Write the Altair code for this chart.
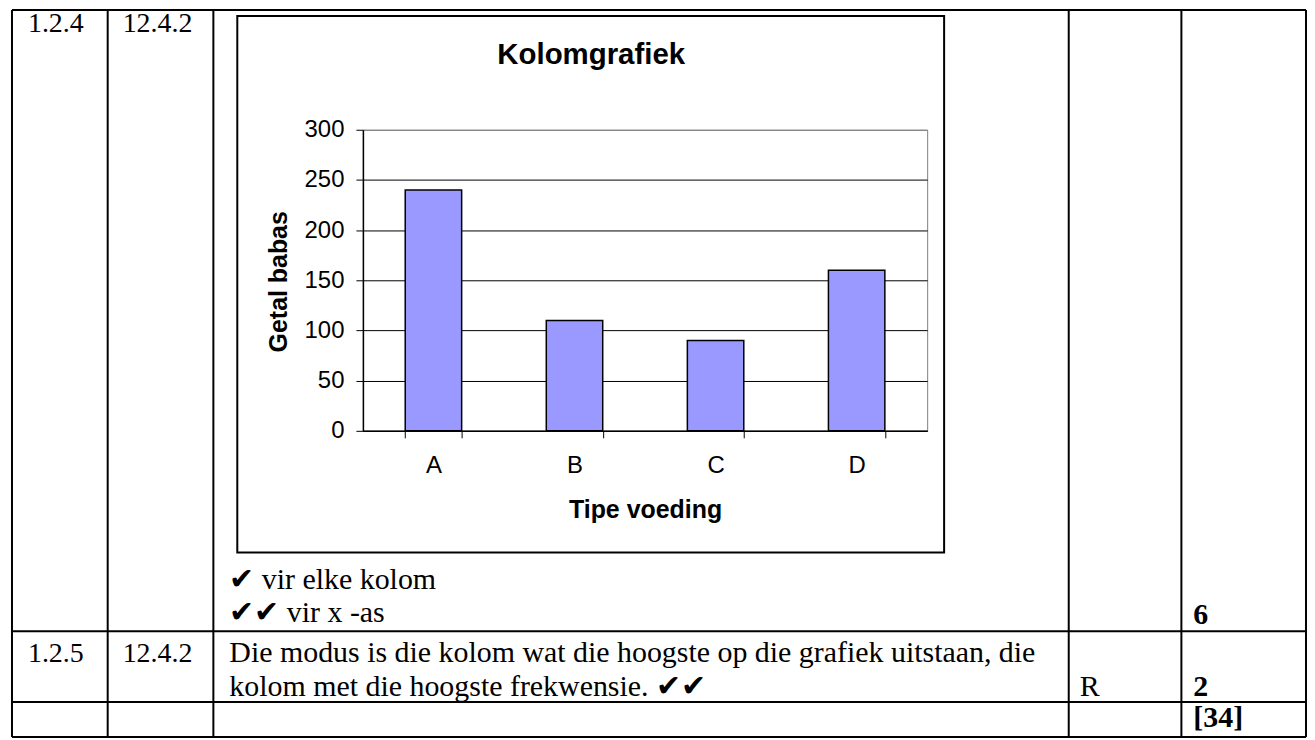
import altair as alt
import pandas as pd

# ---------------- data ----------------
categories = ["A", "B", "C", "D"]
values = [240, 110, 90, 160]
y_ticks = [0, 50, 100, 150, 200, 250, 300]

chart_title = "Kolomgrafiek"
x_title = "Tipe voeding"
y_title = "Getal babas"

question_numbers = ["1.2.4", "1.2.5"]
outcome_codes = ["12.4.2", "12.4.2"]
memo_notes = ["✔ vir elke kolom", "✔✔ vir x -as"]
answer_lines = [
    "Die modus is die kolom wat die hoogste op die grafiek uitstaan, die",
    "kolom met die hoogste frekwensie. ✔✔",
]
levels = ["R"]
marks_awarded = ["6", "2", "[34]"]

df = pd.DataFrame({"cat": categories, "val": values})
one = pd.DataFrame({"k": [0]})

# ---------------- layout (page pixels) ----------------
PX0, PY0 = 364, 129      # top-left of plot area on the page
W, H = 566, 302          # plot area size
MARGIN = 8


def rx(px):
    return px - PX0


def ry(py):
    return py - PY0


SERIF = "Liberation Serif"
SANS = "Liberation Sans"

# table geometry
T_LEFT, T_RIGHT = 12, 1310
T_TOP, T_BOTTOM = 9, 738
COL_X = [12, 108, 214, 1072, 1185, 1310]
ROW_Y = [9, 632, 703, 738]


def hrule(py, x1=T_LEFT, x2=T_RIGHT, w=2):
    return alt.Chart(one).mark_rule(color="black", strokeWidth=w).encode(
        x=alt.value(rx(x1)), x2=alt.value(rx(x2)), y=alt.value(ry(py))
    )


def vrule(px, y1=T_TOP, y2=T_BOTTOM, w=2):
    return alt.Chart(one).mark_rule(color="black", strokeWidth=w).encode(
        x=alt.value(rx(px)), y=alt.value(ry(y1)), y2=alt.value(ry(y2))
    )


def txt(s, px, py, size=30, bold=False, font=SERIF, align="left"):
    return alt.Chart(one).mark_text(
        text=s, font=font, fontSize=size,
        fontWeight="bold" if bold else "normal",
        align=align, baseline="alphabetic", color="black",
    ).encode(x=alt.value(rx(px)), y=alt.value(ry(py)))


# chart frame
frame = alt.Chart(one).mark_rect(
    fillOpacity=0, stroke="black", strokeWidth=2
).encode(
    x=alt.value(rx(238)), x2=alt.value(rx(947)),
    y=alt.value(ry(15)), y2=alt.value(ry(553)),
)

bars = alt.Chart(df).mark_bar(
    color="#9999FF", stroke="black", strokeWidth=1.5
).encode(
    x=alt.X(
        "cat:N", sort=categories,
        scale=alt.Scale(paddingInner=0.6, paddingOuter=0.3),
        axis=alt.Axis(
            title=x_title, labelAngle=0, tickBand="extent", grid=False,
            tickSize=7, tickColor="black", domainColor="black", domainWidth=1.5,
            labelFont=SANS, labelFontSize=24, labelColor="black",
            labelPadding=35, labelBaseline="alphabetic",
            titleFont=SANS, titleFontSize=25, titleFontWeight="bold",
            titleColor="black", titleX=W / 2, titleY=87,
            titleBaseline="alphabetic",
        ),
    ),
    y=alt.Y(
        "val:Q",
        scale=alt.Scale(domain=[0, 300], nice=False),
        axis=alt.Axis(
            title=y_title, values=y_ticks, grid=True,
            gridColor=alt.condition("datum.value === 300", alt.value("#808080"), alt.value("black")),
            gridWidth=1,
            tickSize=7, tickColor="black", domainColor="black", domainWidth=1.5,
            labelFont=SANS, labelFontSize=24, labelColor="black", labelPadding=12,
            titleFont=SANS, titleFontSize=25, titleFontWeight="bold",
            titleColor="black", titleX=-77, titleY=152,
            titleBaseline="alphabetic",
        ),
    ),
)

title_layer = txt(chart_title, 593, 63, size=29.5, bold=True, font=SANS, align="center")

rules = [hrule(y) for y in ROW_Y] + [vrule(x) for x in COL_X]

texts = [
    txt(question_numbers[0], 28, 31, size=28),
    txt(outcome_codes[0], 123, 31, size=28),
    txt(memo_notes[0], 230, 590),
    txt(memo_notes[1], 230, 623),
    txt(marks_awarded[0], 1197, 625, bold=True),
    txt(question_numbers[1], 28, 663, size=28),
    txt(outcome_codes[1], 123, 663, size=28),
    txt(answer_lines[0], 230, 663),
    txt(answer_lines[1], 230, 697),
    txt(levels[0], 1083, 697),
    txt(marks_awarded[1], 1197, 697, bold=True),
    txt(marks_awarded[2], 1197, 728, bold=True),
]

pad_left = PX0 - MARGIN
pad_top = PY0 - MARGIN
pad_right = 1311 - MARGIN - pad_left - W
pad_bottom = 740 - MARGIN - pad_top - H

chart = alt.layer(frame, bars, title_layer, *rules, *texts).properties(
    width=W, height=H,
    padding={"left": pad_left, "top": pad_top, "right": pad_right, "bottom": pad_bottom},
    autosize=alt.AutoSizeParams(type="none"),
    background="white",
).configure_view(stroke="#808080", strokeWidth=1)

chart.save("out.html", embed_options={"renderer": "svg", "actions": False})
